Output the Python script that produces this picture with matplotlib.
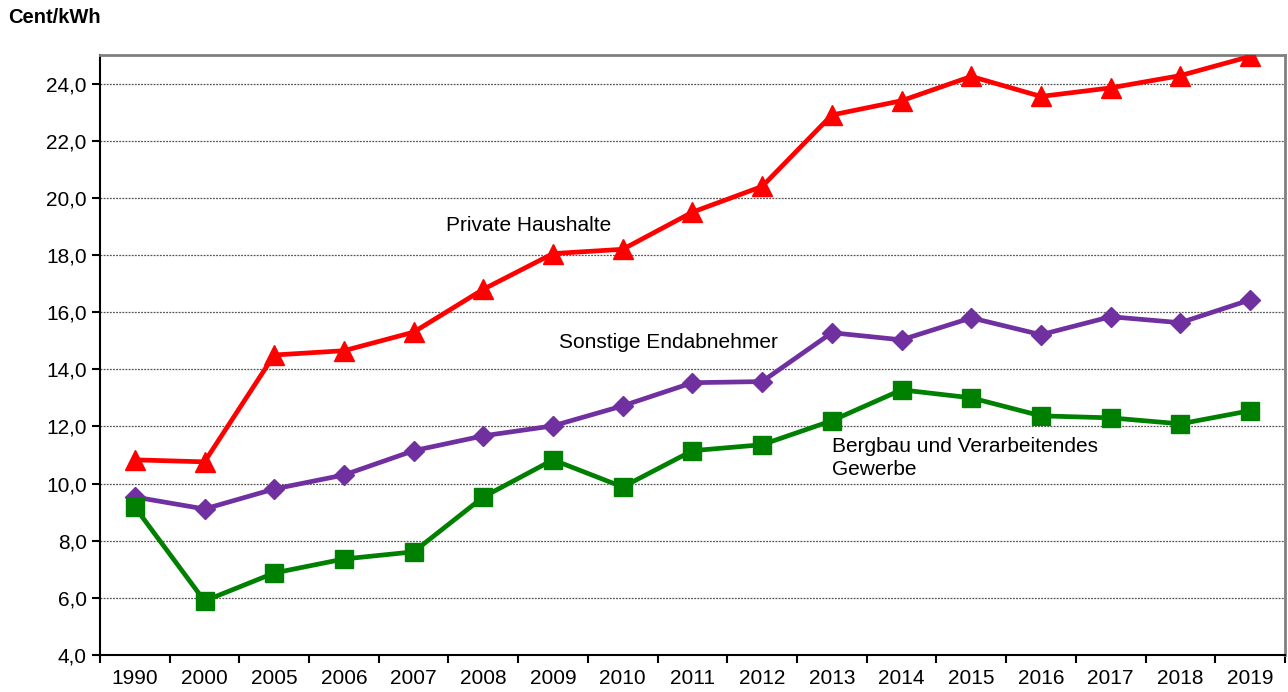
import numpy as np
import matplotlib
matplotlib.use('Agg')
import matplotlib.pyplot as plt

plt.rcParams['font.family'] = ['Liberation Sans', 'DejaVu Sans']

# data
years = ['1990', '2000', '2005', '2006', '2007', '2008', '2009', '2010', '2011',
         '2012', '2013', '2014', '2015', '2016', '2017', '2018', '2019']
private = [10.83, 10.76, 14.5, 14.65, 15.3, 16.8, 18.05, 18.2, 19.5,
           20.4, 22.9, 23.4, 24.25, 23.55, 23.85, 24.28, 24.95]
sonstige = [9.53, 9.11, 9.81, 10.3, 11.15, 11.67, 12.02, 12.72, 13.53,
            13.57, 15.28, 15.03, 15.8, 15.21, 15.84, 15.63, 16.43]
bergbau = [9.18, 5.89, 6.87, 7.36, 7.61, 9.53, 10.83, 9.88, 11.15,
           11.36, 12.2, 13.28, 13.0, 12.37, 12.3, 12.09, 12.55]
yticks = np.arange(4, 25, 2)

fig = plt.figure(figsize=(12.88, 6.92), dpi=100)
ax = fig.add_axes([0.0776, 0.0535, 0.92, 0.867])

x = np.arange(len(years))
ax.plot(x, private, color='#FF0000', lw=3.4, marker='^', ms=15, zorder=3)
ax.plot(x, sonstige, color='#7030A0', lw=3.4, marker='D', ms=10.5, zorder=3)
ax.plot(x, bergbau, color='#008000', lw=3.4, marker='s', ms=13, zorder=3)

ax.set_xlim(-0.5, len(years) - 0.5)
ax.set_ylim(4, 25)

# y axis
ax.set_yticks(yticks)
ax.set_yticklabels([f'{v:.1f}'.replace('.', ',') for v in yticks], fontsize=15)
for v in yticks[1:]:
    ax.axhline(v, color='#555555', lw=0.9, ls=(0, (1.5, 1)), zorder=1)

# x axis: tick marks between categories, labels centred
ax.set_xticks(np.arange(len(years) + 1) - 0.5)
ax.set_xticklabels([])
ax.set_xticks(x, minor=True)
ax.set_xticklabels(years, minor=True, fontsize=15)
ax.tick_params(axis='x', which='minor', length=0, pad=10)
ax.tick_params(axis='both', which='major', direction='out', length=6, width=1.5)

for s in ['left', 'bottom']:
    ax.spines[s].set_linewidth(1.5)
    ax.spines[s].set_color('black')
for s in ['top', 'right']:
    ax.spines[s].set_linewidth(2)
    ax.spines[s].set_color('#808080')

# series labels
ax.text(4.46, 19.03, 'Private Haushalte', fontsize=15, va='center', ha='left')
ax.text(6.09, 14.93, 'Sonstige Endabnehmer', fontsize=15, va='center', ha='left')
ax.text(10.0, 10.9, 'Bergbau und Verarbeitendes\nGewerbe', fontsize=15,
        va='center', ha='left', linespacing=1.25)

fig.text(0.006, 0.974, 'Cent/kWh', fontsize=14.5, fontweight='bold', va='center')

fig.savefig('out.png', dpi=100)
